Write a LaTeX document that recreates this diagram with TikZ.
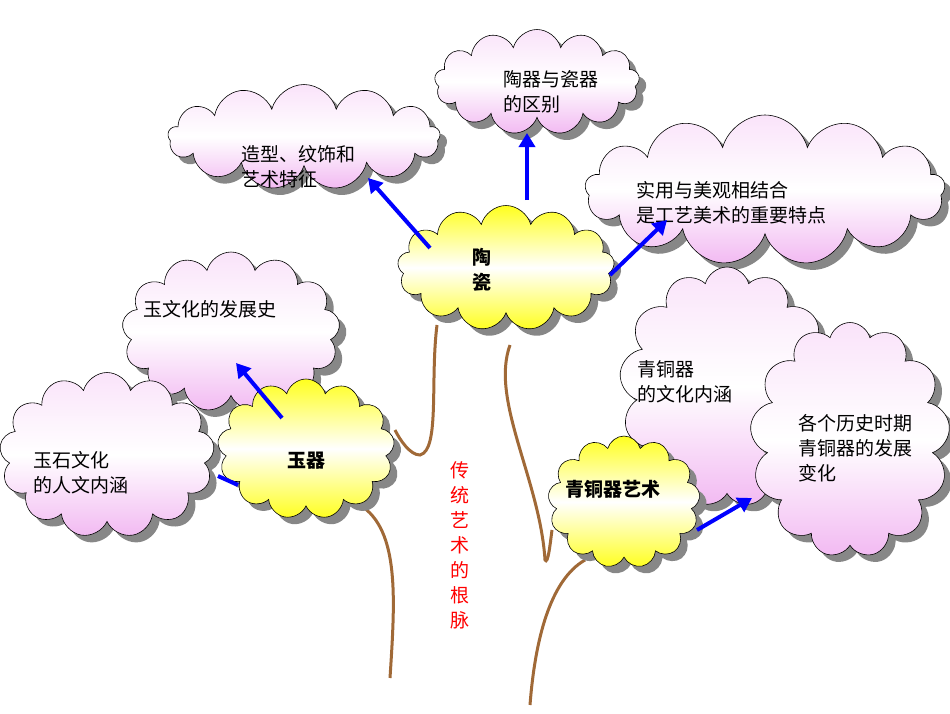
\documentclass[tikz,border=0pt]{standalone}
\usepackage{fontspec}
\setmainfont{Noto Sans CJK SC}
\usetikzlibrary{shapes.symbols,arrows.meta}
\definecolor{pk}{RGB}{242,185,242}
\definecolor{yl}{RGB}{255,255,30}
\definecolor{br}{RGB}{160,105,55}
\definecolor{sg}{RGB}{135,135,135}
\tikzset{
 cloudbase/.style={cloud, cloud puffs=13, aspect=1.6},
 shadowc/.style={cloudbase, top color=sg, bottom color=sg, xshift=7pt, yshift=-7pt},
 mainc/.style={cloudbase, draw=black, line width=0.6pt},
 pink/.style={top color=pk!40, bottom color=pk, middle color=white},
 yel/.style={top color=yl, bottom color=yl, middle color=white},
 arr/.style={draw=blue, line width=4pt, -{Triangle[length=14pt,width=16pt]}},
 ln/.style={draw=blue, line width=4pt},
 stem/.style={draw=br, line width=3pt},
 lab/.style={font=\fontsize{19pt}{25pt}\selectfont, align=left},
 blab/.style={font=\fontsize{19pt}{25pt}\selectfont\bfseries, align=left}
}
\begin{document}
\begin{tikzpicture}[x=1pt,y=-1pt]
\useasboundingbox (0,0) rectangle (950,713);
% stems
\draw[stem] (437,325) .. controls (430,380) and (440,450) .. (420,455) .. controls (410,455) and (400,440) .. (395,430);
\draw[stem] (510,345) .. controls (490,400) and (540,480) .. (545,560) .. controls (548,565) and (550,545) .. (552,530);
\draw[stem] (360,505) .. controls (400,530) and (395,600) .. (390,678);
\draw[stem] (585,560) .. controls (550,580) and (535,640) .. (530,705);
% clouds
\node[shadowc, minimum width=272pt, minimum height=105pt] (s1) at (304,137) {};
\node[mainc, pink, minimum width=272pt, minimum height=105pt] (c1) at (304,137) {};
\node[shadowc, minimum width=205pt, minimum height=105pt] (s2) at (537,82) {};
\node[mainc, pink, minimum width=205pt, minimum height=105pt] (c2) at (537,82) {};
\node[shadowc, minimum width=360pt, minimum height=150pt] (s3) at (765,190) {};
\node[mainc, pink, minimum width=360pt, minimum height=150pt] (c3) at (765,190) {};
\node[shadowc, minimum width=218pt, minimum height=160pt] (s5) at (231,332) {};
\node[mainc, pink, minimum width=218pt, minimum height=160pt] (c5) at (231,332) {};
\node[shadowc, minimum width=215pt, minimum height=165pt] (s6) at (107,455) {};
\node[mainc, pink, minimum width=215pt, minimum height=165pt] (c6) at (107,455) {};
\node[shadowc, minimum width=217pt, minimum height=125pt] (s4) at (506,268) {};
\node[mainc, yel, minimum width=217pt, minimum height=125pt] (c4) at (506,268) {};
\node[shadowc, minimum width=177pt, minimum height=140pt] (s7) at (306,449) {};
\node[mainc, yel, minimum width=177pt, minimum height=140pt] (c7) at (306,449) {};
\node[shadowc, minimum width=215pt, minimum height=240pt] (s8) at (727,387) {};
\node[mainc, pink, minimum width=215pt, minimum height=240pt] (c8) at (727,387) {};
\node[shadowc, minimum width=200pt, minimum height=235pt] (s9) at (850,440) {};
\node[mainc, pink, minimum width=200pt, minimum height=235pt] (c9) at (850,440) {};
\node[shadowc, minimum width=152pt, minimum height=132pt] (s10) at (624,502) {};
\node[mainc, yel, minimum width=152pt, minimum height=132pt] (c10) at (624,502) {};
% labels
\node[lab, anchor=west] (t1) at (238,167) {造型、纹饰和\\艺术特征};
\node[lab, anchor=west] (t2) at (500,92) {陶器与瓷器\\的区别};
\node[lab, anchor=west] (t3) at (633,203) {实用与美观相结合\\是工艺美术的重要特点};
\node[blab] (t4) at (482,270) {陶\\瓷};
\node[lab, anchor=west] (t5) at (140,309) {玉文化的发展史};
\node[lab, anchor=west] (t6) at (30,473) {玉石文化\\的人文内涵};
\node[blab] (t7) at (306,461) {玉器};
\node[lab, anchor=west] (t8) at (634,382) {青铜器\\的文化内涵};
\node[lab, anchor=west] (t9) at (795,448) {各个历史时期\\青铜器的发展\\变化};
\node[blab] (t10) at (613,489) {青铜器艺术};
\node[font=\fontsize{19pt}{25pt}\selectfont, text=red, align=center] (t11) at (460,545) {传\\统\\艺\\术\\的\\根\\脉};
% arrows
\coordinate (a1) at (430,248); \coordinate (b1) at (368,178);
\coordinate (a2) at (527,200); \coordinate (b2) at (527,133);
\coordinate (a3) at (610,275); \coordinate (b3) at (667,220);
\coordinate (a4) at (282,418); \coordinate (b4) at (236,363);
\coordinate (a5) at (238,485); \coordinate (b5) at (218,476);
\coordinate (a6) at (697,530); \coordinate (b6) at (752,498);
\draw[arr] (a1) -- (b1);
\draw[arr] (a2) -- (b2);
\draw[arr] (a3) -- (b3);
\draw[arr] (a4) -- (b4);
\draw[ln] (a5) -- (b5);
\draw[arr] (a6) -- (b6);
\end{tikzpicture}
\end{document}
